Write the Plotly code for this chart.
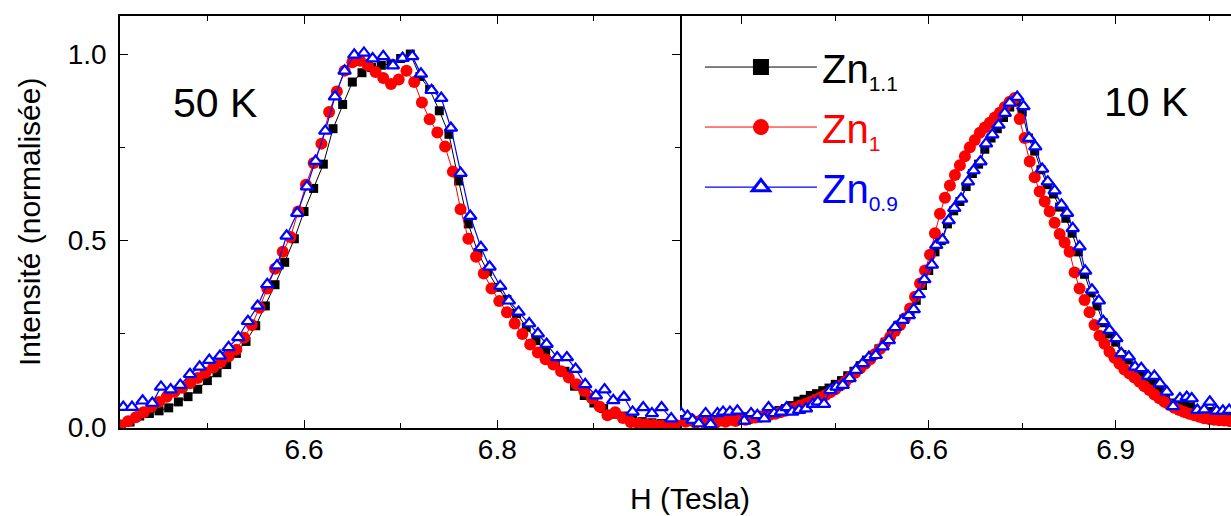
import plotly.graph_objects as go

# ---------------- 50 K panel ----------------
h50_zn11 = [6.41, 6.42, 6.43, 6.44, 6.45, 6.46, 6.47, 6.48, 6.49, 6.50,
            6.51, 6.52, 6.53, 6.54, 6.55, 6.56, 6.57, 6.58, 6.59, 6.60,
            6.61, 6.62, 6.63, 6.64, 6.65, 6.66, 6.67, 6.68, 6.69, 6.70,
            6.71, 6.72, 6.73, 6.74, 6.75, 6.76, 6.77, 6.78, 6.79, 6.80,
            6.81, 6.82, 6.83, 6.84, 6.85, 6.86, 6.87, 6.88, 6.89, 6.90,
            6.91, 6.92, 6.93, 6.94, 6.95, 6.96, 6.97, 6.98]
i50_zn11 = [0.008, 0.014, 0.030, 0.037, 0.044, 0.052, 0.068, 0.082, 0.102, 0.125,
            0.146, 0.168, 0.198, 0.230, 0.272, 0.325, 0.382, 0.442, 0.505, 0.578,
            0.640, 0.705, 0.800, 0.865, 0.925, 0.950, 0.964, 0.970, 0.974, 0.988,
            1.000, 0.940, 0.905, 0.848, 0.785, 0.660, 0.545, 0.468, 0.418, 0.375,
            0.342, 0.305, 0.268, 0.232, 0.205, 0.175, 0.150, 0.110, 0.085, 0.065,
            0.050, 0.035, 0.030, 0.020, 0.015, 0.012, 0.010, 0.008]

h50_zn1 = [6.410, 6.418, 6.426, 6.434, 6.442, 6.450, 6.458, 6.466, 6.474, 6.482,
           6.490, 6.498, 6.506, 6.514, 6.522, 6.530, 6.538, 6.546, 6.554, 6.562,
           6.570, 6.578, 6.586, 6.594, 6.602, 6.610, 6.618, 6.626, 6.634, 6.642,
           6.650, 6.658, 6.666, 6.674, 6.682, 6.690, 6.698, 6.706, 6.714, 6.722,
           6.730, 6.738, 6.746, 6.754, 6.762, 6.770, 6.778, 6.786, 6.794, 6.802,
           6.810, 6.818, 6.826, 6.834, 6.842, 6.850, 6.858, 6.866, 6.874, 6.882,
           6.890, 6.898, 6.906, 6.914, 6.922, 6.930, 6.938, 6.946, 6.954, 6.962,
           6.970, 6.978, 6.986]
i50_zn1 = [0.005, 0.016, 0.027, 0.040, 0.055, 0.068, 0.082, 0.095, 0.106, 0.118,
           0.132, 0.146, 0.160, 0.175, 0.190, 0.208, 0.240, 0.274, 0.320, 0.372,
           0.425, 0.470, 0.510, 0.578, 0.650, 0.708, 0.760, 0.845, 0.900, 0.955,
           0.978, 0.982, 0.970, 0.952, 0.936, 0.920, 0.932, 0.955, 0.925, 0.870,
           0.825, 0.790, 0.752, 0.685, 0.584, 0.505, 0.457, 0.412, 0.372, 0.338,
           0.308, 0.278, 0.250, 0.222, 0.200, 0.182, 0.168, 0.150, 0.133, 0.115,
           0.097, 0.078, 0.055, 0.032, 0.040, 0.025, 0.014, 0.010, 0.008, 0.006,
           0.005, 0.005, 0.005]

h50_zn09 = [6.413, 6.422, 6.433, 6.443, 6.452, 6.462, 6.472, 6.482, 6.492, 6.502,
            6.513, 6.522, 6.532, 6.542, 6.552, 6.562, 6.572, 6.582, 6.593, 6.603,
            6.612, 6.622, 6.632, 6.642, 6.652, 6.662, 6.671, 6.682, 6.692, 6.702,
            6.712, 6.721, 6.732, 6.742, 6.752, 6.762, 6.772, 6.783, 6.792, 6.803,
            6.812, 6.822, 6.833, 6.842, 6.851, 6.862, 6.872, 6.881, 6.891, 6.902,
            6.911, 6.920, 6.931, 6.940, 6.951, 6.960, 6.970, 6.980]
i50_zn09 = [0.054, 0.054, 0.071, 0.065, 0.108, 0.101, 0.113, 0.142, 0.162, 0.180,
            0.191, 0.214, 0.241, 0.284, 0.325, 0.383, 0.433, 0.513, 0.574, 0.645,
            0.713, 0.794, 0.886, 0.955, 0.998, 1.003, 0.988, 0.994, 0.969, 0.989,
            0.994, 0.947, 0.903, 0.882, 0.802, 0.681, 0.566, 0.482, 0.430, 0.378,
            0.339, 0.309, 0.278, 0.251, 0.223, 0.187, 0.187, 0.156, 0.115, 0.085,
            0.101, 0.072, 0.081, 0.041, 0.053, 0.037, 0.053, 0.023]

# ---------------- 10 K panel ----------------
h10_zn11 = [6.20, 6.21, 6.22, 6.23, 6.24, 6.25, 6.26, 6.27, 6.28, 6.29,
            6.30, 6.31, 6.32, 6.33, 6.34, 6.35, 6.36, 6.37, 6.38, 6.39,
            6.40, 6.41, 6.42, 6.43, 6.44, 6.45, 6.46, 6.47, 6.48, 6.49,
            6.50, 6.51, 6.52, 6.53, 6.54, 6.55, 6.56, 6.57, 6.58, 6.59,
            6.60, 6.61, 6.62, 6.63, 6.64, 6.65, 6.66, 6.67, 6.68, 6.69,
            6.70, 6.71, 6.72, 6.73, 6.74, 6.75, 6.76, 6.77, 6.78, 6.79,
            6.80, 6.81, 6.82, 6.83, 6.84, 6.85, 6.86, 6.87, 6.88, 6.89,
            6.90, 6.91, 6.92, 6.93, 6.94, 6.95, 6.96, 6.97, 6.98, 6.99,
            7.00, 7.01, 7.02, 7.03, 7.04, 7.05, 7.06, 7.07, 7.08]
i10_zn11 = [0.018, 0.020, 0.015, 0.018, 0.020, 0.017, 0.022, 0.020, 0.024, 0.025,
            0.027, 0.028, 0.030, 0.032, 0.035, 0.040, 0.045, 0.050, 0.058, 0.070,
            0.075, 0.085, 0.090, 0.098, 0.105, 0.115, 0.125, 0.138, 0.150, 0.165,
            0.180, 0.193, 0.210, 0.228, 0.250, 0.272, 0.290, 0.310, 0.340, 0.380,
            0.420, 0.470, 0.500, 0.545, 0.580, 0.605, 0.645, 0.680, 0.705, 0.745,
            0.775, 0.800, 0.830, 0.858, 0.872, 0.845, 0.775, 0.740, 0.690, 0.650,
            0.625, 0.590, 0.560, 0.520, 0.470, 0.410, 0.360, 0.325, 0.280, 0.250,
            0.228, 0.195, 0.180, 0.155, 0.145, 0.128, 0.120, 0.100, 0.088, 0.065,
            0.060, 0.058, 0.055, 0.040, 0.038, 0.042, 0.035, 0.032, 0.030]

h10_zn1 = [6.202, 6.210, 6.218, 6.226, 6.234, 6.242, 6.250, 6.258, 6.266, 6.274,
           6.282, 6.290, 6.298, 6.306, 6.314, 6.322, 6.330, 6.338, 6.346, 6.354,
           6.362, 6.370, 6.378, 6.386, 6.394, 6.402, 6.410, 6.418, 6.426, 6.434,
           6.442, 6.450, 6.458, 6.466, 6.474, 6.482, 6.490, 6.498, 6.506, 6.514,
           6.522, 6.530, 6.538, 6.546, 6.554, 6.562, 6.570, 6.578, 6.586, 6.594,
           6.602, 6.610, 6.618, 6.626, 6.634, 6.642, 6.650, 6.658, 6.666, 6.674,
           6.682, 6.690, 6.698, 6.706, 6.714, 6.722, 6.730, 6.738, 6.746, 6.754,
           6.762, 6.770, 6.778, 6.786, 6.794, 6.802, 6.810, 6.818, 6.826, 6.834,
           6.842, 6.850, 6.858, 6.866, 6.874, 6.882, 6.890, 6.898, 6.906, 6.914,
           6.922, 6.930, 6.938, 6.946, 6.954, 6.962, 6.970, 6.978, 6.986, 6.994,
           7.002, 7.010, 7.018, 7.026, 7.034, 7.042, 7.050, 7.058, 7.066, 7.074,
           7.082]
i10_zn1 = [0.020, 0.015, 0.022, 0.012, 0.018, 0.010, 0.016, 0.012, 0.018, 0.015,
           0.020, 0.017, 0.022, 0.020, 0.024, 0.026, 0.028, 0.030, 0.034, 0.036,
           0.040, 0.044, 0.048, 0.052, 0.058, 0.062, 0.068, 0.074, 0.080, 0.086,
           0.094, 0.102, 0.112, 0.122, 0.134, 0.146, 0.158, 0.170, 0.182, 0.196,
           0.210, 0.226, 0.242, 0.258, 0.274, 0.292, 0.318, 0.350, 0.385, 0.420,
           0.462, 0.520, 0.572, 0.615, 0.648, 0.676, 0.702, 0.726, 0.750, 0.770,
           0.789, 0.803, 0.816, 0.830, 0.843, 0.858, 0.872, 0.882, 0.826, 0.775,
           0.712, 0.670, 0.632, 0.605, 0.578, 0.548, 0.518, 0.495, 0.470, 0.415,
           0.372, 0.341, 0.308, 0.274, 0.245, 0.224, 0.202, 0.186, 0.170, 0.155,
           0.144, 0.133, 0.122, 0.110, 0.100, 0.088, 0.078, 0.068, 0.060, 0.052,
           0.046, 0.041, 0.036, 0.032, 0.028, 0.024, 0.022, 0.020, 0.019, 0.018,
           0.017]

h10_zn09 = [6.203, 6.213, 6.221, 6.231, 6.242, 6.250, 6.261, 6.270, 6.281, 6.293,
            6.304, 6.315, 6.325, 6.336, 6.343, 6.352, 6.363, 6.372, 6.381, 6.392,
            6.403, 6.414, 6.422, 6.432, 6.442, 6.452, 6.462, 6.473, 6.483, 6.494,
            6.504, 6.515, 6.526, 6.536, 6.546, 6.558, 6.568, 6.576, 6.584, 6.593,
            6.605, 6.612, 6.622, 6.632, 6.641, 6.652, 6.663, 6.672, 6.683, 6.692,
            6.702, 6.712, 6.722, 6.730, 6.742, 6.752, 6.761, 6.771, 6.782, 6.791,
            6.802, 6.813, 6.822, 6.831, 6.842, 6.851, 6.862, 6.873, 6.880, 6.890,
            6.901, 6.909, 6.921, 6.931, 6.941, 6.952, 6.962, 6.971, 6.982, 6.992,
            7.003, 7.014, 7.022, 7.031, 7.042, 7.051, 7.062, 7.072, 7.082]
i10_zn09 = [0.037, 0.030, 0.019, 0.010, 0.037, 0.008, 0.037, 0.041, 0.041, 0.044,
            0.017, 0.037, 0.032, 0.023, 0.053, 0.037, 0.041, 0.053, 0.041, 0.046,
            0.050, 0.062, 0.068, 0.062, 0.099, 0.108, 0.113, 0.131, 0.153, 0.171,
            0.187, 0.193, 0.216, 0.233, 0.268, 0.287, 0.300, 0.316, 0.356, 0.396,
            0.435, 0.488, 0.502, 0.554, 0.587, 0.612, 0.658, 0.688, 0.712, 0.760,
            0.784, 0.810, 0.842, 0.869, 0.885, 0.860, 0.775, 0.752, 0.692, 0.658,
            0.634, 0.596, 0.574, 0.533, 0.484, 0.419, 0.368, 0.339, 0.284, 0.260,
            0.238, 0.198, 0.189, 0.162, 0.158, 0.137, 0.137, 0.117, 0.095, 0.056,
            0.077, 0.081, 0.077, 0.046, 0.047, 0.068, 0.044, 0.044, 0.046]

names = ["Zn<sub><span style='font-size:21px'>1.1</span></sub>",
         "<span style='color:#ff0000'>Zn<sub><span style='font-size:21px'>1</span></sub></span>",
         "<span style='color:#0000ff'>Zn<sub><span style='font-size:21px'>0.9</span></sub></span>"]
panel_labels = ["50 K", "10 K"]

FONT = "Liberation Sans, Arial, sans-serif"
colors = ["black", "#ff0000", "#0000ff"]


def style(k, legend=False):
    if k == 0:
        mk = dict(symbol="square", size=16 if legend else 9, color="black")
        lw = 1
    elif k == 1:
        mk = dict(symbol="circle", size=16 if legend else 12, color="#ff0000")
        lw = 1
    else:
        mk = dict(symbol="triangle-up", size=15 if legend else 11, color="white",
                  line=dict(color="#0000ff", width=3 if legend else 2.2))
        lw = 1.2
    return dict(mode="lines+markers", line=dict(color=colors[k], width=lw), marker=mk)


left = [(h50_zn11, i50_zn11), (h50_zn1, i50_zn1), (h50_zn09, i50_zn09)]
right = [(h10_zn11, i10_zn11), (h10_zn1, i10_zn1), (h10_zn09, i10_zn09)]

fig = go.Figure()
for k, (hx, iy) in enumerate(left):
    fig.add_trace(go.Scatter(x=hx, y=iy, xaxis="x", yaxis="y", name=names[k],
                             legendgroup=str(k), showlegend=False, **style(k)))
for k, (hx, iy) in enumerate(right):
    fig.add_trace(go.Scatter(x=hx, y=iy, xaxis="x2", yaxis="y", name=names[k],
                             legendgroup=str(k), showlegend=False, **style(k)))
# legend-only entries (larger symbols, as in the original legend)
for k in range(3):
    fig.add_trace(go.Scatter(x=[None], y=[None], xaxis="x", yaxis="y", name=names[k],
                             legendgroup=str(k), showlegend=True, **style(k, legend=True)))

axis_common = dict(showline=True, linecolor="black", linewidth=1.5, mirror="ticks",
                   ticks="inside", ticklen=8, tickwidth=1, tickcolor="black",
                   showgrid=False, zeroline=False,
                   tickfont=dict(family=FONT, size=28, color="black"))

fig.update_layout(
    width=1231, height=516,
    margin=dict(l=120, r=0, t=16, b=88),
    paper_bgcolor="white", plot_bgcolor="white",
    font=dict(family=FONT, color="black"),
    xaxis=dict(domain=[0, 0.504], range=[6.4096, 6.989], anchor="y",
               tick0=6.6, dtick=0.2, tickformat=".1f", ticklabelstandoff=-4,
               minor=dict(dtick=0.1, ticks="inside", ticklen=5, tickcolor="black"),
               **axis_common),
    xaxis2=dict(domain=[0.504, 1], range=[6.2008, 7.085], anchor="y",
                tick0=6.3, dtick=0.3, tickformat=".1f", ticklabelstandoff=-4,
                minor=dict(dtick=0.15, ticks="inside", ticklen=5, tickcolor="black"),
                **axis_common),
    yaxis=dict(domain=[0, 1], range=[-0.002, 1.102], anchor="x",
               tick0=0, dtick=0.5, tickformat=".1f", ticklabelstandoff=6,
               minor=dict(dtick=0.25, ticks="inside", ticklen=5, tickcolor="black"),
               **axis_common),
    showlegend=True,
    legend=dict(x=0.522, y=0.955, xanchor="left", yanchor="top",
                bgcolor="rgba(0,0,0,0)", itemwidth=112,
                font=dict(family=FONT, size=40, color="black"),
                tracegroupgap=5),
)

fig.add_annotation(text=panel_labels[0], xref="paper", yref="paper",
                   x=0.0855, y=0.789, xanchor="center", yanchor="middle",
                   showarrow=False, font=dict(family=FONT, size=41, color="black"))
fig.add_annotation(text=panel_labels[1], xref="paper", yref="paper",
                   x=0.9235, y=0.791, xanchor="center", yanchor="middle",
                   showarrow=False, font=dict(family=FONT, size=41, color="black"))
fig.add_annotation(text="Intensité (normalisée)", xref="paper", yref="paper",
                   x=-0.0819, y=0.5, xanchor="center", yanchor="middle",
                   textangle=-90, showarrow=False,
                   font=dict(family=FONT, size=30, color="black"))
fig.add_annotation(text="H (Tesla)", xref="paper", yref="paper",
                   x=0.513, y=-0.172, xanchor="center", yanchor="middle",
                   showarrow=False, font=dict(family=FONT, size=30, color="black"))

fig.write_html("out.html", config={"displayModeBar": False},
               post_script="document.body.style.margin='0';")
